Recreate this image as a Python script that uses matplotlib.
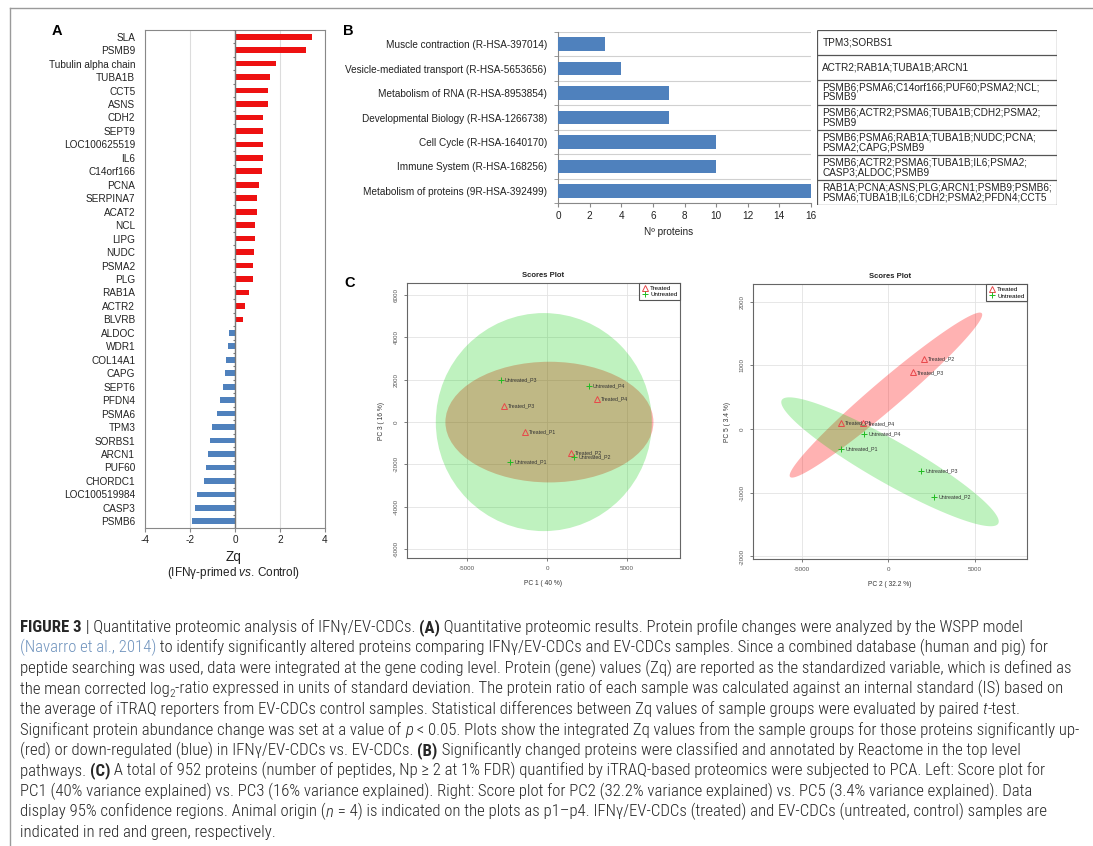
import matplotlib
matplotlib.use('Agg')
import matplotlib.pyplot as plt
from matplotlib import font_manager
from matplotlib.lines import Line2D
from matplotlib.patches import Ellipse, Polygon
import numpy as np

# ---- panel A: Zq per protein
genes = ["SLA", "PSMB9", "Tubulin alpha chain", "TUBA1B", "CCT5", "ASNS", "CDH2",
         "SEPT9", "LOC100625519", "IL6", "C14orf166", "PCNA", "SERPINA7", "ACAT2",
         "NCL", "LIPG", "NUDC", "PSMA2", "PLG", "RAB1A", "ACTR2", "BLVRB", "ALDOC",
         "WDR1", "COL14A1", "CAPG", "SEPT6", "PFDN4", "PSMA6", "TPM3", "SORBS1",
         "ARCN1", "PUF60", "CHORDC1", "LOC100519984", "CASP3", "PSMB6"]
zq = [3.41, 3.16, 1.81, 1.56, 1.48, 1.45, 1.26, 1.26, 1.23, 1.23, 1.20, 1.08, 0.98,
      0.96, 0.90, 0.87, 0.86, 0.81, 0.79, 0.62, 0.44, 0.34, -0.25, -0.33, -0.41,
      -0.46, -0.52, -0.65, -0.81, -1.01, -1.10, -1.21, -1.30, -1.39, -1.70, -1.78,
      -1.90]

# ---- panel B: Reactome pathways
pathways = ["Muscle contraction (R-HSA-397014)",
            "Vesicle-mediated transport (R-HSA-5653656)",
            "Metabolism of RNA (R-HSA-8953854)",
            "Developmental Biology (R-HSA-1266738)",
            "Cell Cycle (R-HSA-1640170)",
            "Immune System (R-HSA-168256)",
            "Metabolism of proteins (9R-HSA-392499)"]
n_proteins = [3, 4, 7, 7, 10, 10, 16]
pathway_genes = ["TPM3;SORBS1",
                 "ACTR2;RAB1A;TUBA1B;ARCN1",
                 "PSMB6;PSMA6;C14orf166;PUF60;PSMA2;NCL;\nPSMB9",
                 "PSMB6;ACTR2;PSMA6;TUBA1B;CDH2;PSMA2;\nPSMB9",
                 "PSMB6;PSMA6;RAB1A;TUBA1B;NUDC;PCNA;\nPSMA2;CAPG;PSMB9",
                 "PSMB6;ACTR2;PSMA6;TUBA1B;IL6;PSMA2;\nCASP3;ALDOC;PSMB9",
                 "RAB1A;PCNA;ASNS;PLG;ARCN1;PSMB9;PSMB6;\nPSMA6;TUBA1B;IL6;CDH2;PSMA2;PFDN4;CCT5"]

# ---- panel C: PCA scores
treated_names = ["Treated_P1", "Treated_P2", "Treated_P3", "Treated_P4"]
untreated_names = ["Untreated_P1", "Untreated_P2", "Untreated_P3", "Untreated_P4"]
treated_pc1 = [-1400, 1500, -2700, 3100]
treated_pc3 = [-450, -1450, 750, 1100]
untreated_pc1 = [-2300, 1700, -2900, 2600]
untreated_pc3 = [-1900, -1650, 2000, 1700]
treated_pc2 = [-2730, 2050, 1400, -1450]
treated_pc5 = [100, 1100, 890, 90]
untreated_pc2 = [-2710, 2640, 1900, -1380]
untreated_pc5 = [-310, -1070, -660, -80]

# 95% regions: centre, width, height (PC1 vs PC3)
treated_region_13 = [(150, 0), 13000, 5700]
untreated_region_13 = [(-200, 0), 13500, 10300]
# 95% regions: centre and half axes (PC2 vs PC5)
treated_region_25 = [(-140, 535), (5530, 1285), (530, -170)]
untreated_region_25 = [(95, -513), (6245, -970), (610, 290)]

W, H = 1093, 846
fig = plt.figure(figsize=(W / 100, H / 100), dpi=100)

names = {f.name for f in font_manager.fontManager.ttflist}
SANS = 'Liberation Sans' if 'Liberation Sans' in names else 'DejaVu Sans'
plt.rcParams['font.family'] = [SANS, 'DejaVu Sans']
plt.rcParams['axes.unicode_minus'] = False
plt.rcParams['mathtext.fontset'] = 'custom'
plt.rcParams['mathtext.rm'] = SANS
plt.rcParams['mathtext.it'] = SANS + ':italic'
plt.rcParams['mathtext.bf'] = SANS + ':bold'
narrow = [n for n in ['Roboto Condensed', 'Liberation Sans Narrow', 'DejaVu Sans Condensed'] if n in names]
CAP_FAMILY = narrow + [SANS, 'DejaVu Sans']


def px_axes(left, top, right, bottom):
    return fig.add_axes([left / W, 1 - bottom / H, (right - left) / W, (bottom - top) / H])


def fig_text(x, y, s, **kw):
    return fig.text(x / W, 1 - y / H, s, **kw)


# outer frame
fig.add_artist(Line2D([10 / W, 1], [1 - 8 / H, 1 - 8 / H], transform=fig.transFigure, color='#9a9a9a', lw=1))
fig.add_artist(Line2D([10 / W, 10 / W], [1 - 8 / H, 0], transform=fig.transFigure, color='#9a9a9a', lw=1))

for letter, x, y in [("A", 57, 31), ("B", 348, 31), ("C", 350, 283)]:
    fig_text(x, y, letter, fontsize=10.5, weight='bold', ha='center', va='center')

# ---------------- A
axA = px_axes(145, 30, 325, 528)
ya = np.arange(len(genes))
bar_colors = ['#ee1111' if v > 0 else '#4f81bd' for v in zq]
axA.barh(ya, zq, height=0.42, color=bar_colors, zorder=3)
axA.set_xlim(-4, 4)
axA.set_ylim(len(genes) - 0.5, -0.5)
axA.set_xticks([-4, -2, 0, 2, 4])
axA.set_yticks(ya, genes)
axA.tick_params(axis='y', length=0, pad=7, labelsize=7.2, labelcolor='#222')
axA.tick_params(axis='x', length=3, color='#888', labelsize=7.2, labelcolor='#222', pad=2)
axA.grid(axis='x', color='#dcdcdc', lw=0.8)
axA.set_axisbelow(True)
axA.axvline(0, color='#777', lw=1, zorder=4)
axA.hlines(np.arange(len(genes) + 1) - 0.5, -0.09, 0, color='#777', lw=0.8, zorder=4)
for sp in axA.spines.values():
    sp.set_color('#888')
fig_text(234, 557, "Zq", fontsize=9.8, ha='center', va='center', color='#222')
fig_text(234, 573, r"(IFNγ-primed $\it{vs}$. Control)", fontsize=8.5, ha='center', va='center', color='#222')

# ---------------- B
axB = px_axes(558, 32, 811, 203)
yb = np.arange(len(pathways))
axB.barh(yb, n_proteins, height=0.55, color='#4f81bd', zorder=3)
axB.set_xlim(0, 16)
axB.set_ylim(len(pathways) - 0.5, -0.5)
axB.set_xticks(range(0, 17, 2))
axB.set_yticks(yb, pathways)
axB.set_yticks(np.arange(len(pathways) + 1) - 0.5, minor=True)
axB.grid(axis='y', which='minor', color='#d0d0d0', lw=0.8)
axB.tick_params(axis='y', which='major', length=0, pad=8, labelsize=7.2, labelcolor='#222')
axB.tick_params(axis='y', which='minor', length=3, color='#888')
axB.tick_params(axis='x', length=3, color='#888', labelsize=7.2, labelcolor='#222', pad=3)
for side in ['top', 'right']:
    axB.spines[side].set_visible(False)
for side in ['left', 'bottom']:
    axB.spines[side].set_color('#888')
fig_text(669, 232, "Nº proteins", fontsize=7.2, ha='center', va='center', color='#222')

axT = px_axes(817, 30, 1057, 205)
axT.set_xlim(0, 1)
axT.set_ylim(len(pathway_genes), 0)
axT.axis('off')
axT.hlines(np.arange(len(pathway_genes) + 1), 0, 1, color='#555', lw=0.9)
axT.vlines([0, 1], 0, len(pathway_genes), color='#555', lw=0.9)
for i, s in enumerate(pathway_genes):
    axT.text(0.022, i + 0.5, s, fontsize=7.2, va='center', ha='left', linespacing=1.0, color='#222')

# ---------------- C


def style_pca(ax, xlab, ylab, xticks, yticks):
    ax.set_title("Scores Plot", fontsize=5.5, weight='bold', pad=4, color='#222')
    ax.set_xticks(xticks)
    ax.set_yticks(yticks)
    ax.grid(color='#e3e3e3', lw=0.6)
    ax.set_axisbelow(True)
    ax.tick_params(labelsize=4.5, labelcolor='#555', length=2.5, color='#666', width=0.6)
    for lab in ax.get_yticklabels():
        lab.set_rotation(90)
        lab.set_va('center')
    for sp in ax.spines.values():
        sp.set_color('#666')
        sp.set_linewidth(0.8)
    ax.set_xlabel(xlab, fontsize=4.8, color='#333', labelpad=6)
    ax.set_ylabel(ylab, fontsize=4.8, color='#333', labelpad=6)


def plot_groups(ax, tx, ty, ux, uy):
    ax.plot(tx, ty, ls='none', marker='^', mfc='none', mec='#e8474a', ms=4, mew=0.7, label='Treated', zorder=4)
    ax.plot(ux, uy, ls='none', marker='+', color='#22bb22', ms=4, mew=0.7, label='Untreated', zorder=4)
    for names_, xs, ys in [(treated_names, tx, ty), (untreated_names, ux, uy)]:
        for n, x, y in zip(names_, xs, ys):
            ax.annotate(n, (x, y), xytext=(3, 0), textcoords='offset points', fontsize=3.8,
                        va='center', ha='left', color='#333', zorder=5)
    leg = ax.legend(loc='upper right', fontsize=4.5, borderaxespad=0, fancybox=False,
                    framealpha=1, edgecolor='#555', handletextpad=0.4, borderpad=0.4,
                    handlelength=1.0, labelspacing=0.2)
    leg.get_frame().set_linewidth(0.8)


axL = px_axes(407, 283, 680, 558)
axL.set_xlim(-8750, 8310)
axL.set_ylim(-6420, 6570)
axL.add_patch(Ellipse(*treated_region_13, color='#ff0000', alpha=0.3, lw=0, zorder=2))
axL.add_patch(Ellipse(*untreated_region_13, color='#00cc00', alpha=0.25, lw=0, zorder=2))
plot_groups(axL, treated_pc1, treated_pc3, untreated_pc1, untreated_pc3)
style_pca(axL, "PC 1 ( 40 %)", "PC 3 ( 16 %)", [-5000, 0, 5000], range(-6000, 6001, 2000))

axR = px_axes(753, 284, 1027, 559)
axR.set_xlim(-7810, 8000)
axR.set_ylim(-2040, 2280)
t = np.linspace(0, 2 * np.pi, 240)
for region, col, a in [(treated_region_25, '#ff0000', 0.3), (untreated_region_25, '#00cc00', 0.25)]:
    c, u, v = (np.array(p) for p in region)
    pts = c + np.outer(np.cos(t), u) + np.outer(np.sin(t), v)
    axR.add_patch(Polygon(pts, closed=True, color=col, alpha=a, lw=0, zorder=2))
plot_groups(axR, treated_pc2, treated_pc5, untreated_pc2, untreated_pc5)
style_pca(axR, "PC 2 ( 32.2 %)", "PC 5 ( 3.4 %)", [-5000, 0, 5000], range(-2000, 2001, 1000))

# ---------------- caption
caption_lines = [
    [("FIGURE 3", 'b'), (" | Quantitative proteomic analysis of IFNγ/EV-CDCs. ", 'r'), ("(A)", 'b'),
     (" Quantitative proteomic results. Protein profile changes were analyzed by the WSPP model", 'r')],
    [("(Navarro et al., 2014)", 'link'),
     (" to identify significantly altered proteins comparing IFNγ/EV-CDCs and EV-CDCs samples. Since a combined database (human and pig) for", 'r')],
    [("peptide searching was used, data were integrated at the gene coding level. Protein (gene) values (Zq) are reported as the standardized variable, which is defined as", 'r')],
    [("the mean corrected log", 'r'), ("2", 'sub'),
     ("-ratio expressed in units of standard deviation. The protein ratio of each sample was calculated against an internal standard (IS) based on", 'r')],
    [("the average of iTRAQ reporters from EV-CDCs control samples. Statistical differences between Zq values of sample groups were evaluated by paired ", 'r'),
     ("t", 'i'), ("-test.", 'r')],
    [("Significant protein abundance change was set at a value of ", 'r'), ("p", 'i'),
     (" < 0.05. Plots show the integrated Zq values from the sample groups for those proteins significantly up-", 'r')],
    [("(red) or down-regulated (blue) in IFNγ/EV-CDCs vs. EV-CDCs. ", 'r'), ("(B)", 'b'),
     (" Significantly changed proteins were classified and annotated by Reactome in the top level", 'r')],
    [("pathways. ", 'r'), ("(C)", 'b'),
     (" A total of 952 proteins (number of peptides, Np ≥ 2 at 1% FDR) quantified by iTRAQ-based proteomics were subjected to PCA. Left: Score plot for", 'r')],
    [("PC1 (40% variance explained) vs. PC3 (16% variance explained). Right: Score plot for PC2 (32.2% variance explained) vs. PC5 (3.4% variance explained). Data", 'r')],
    [("display 95% confidence regions. Animal origin (", 'r'), ("n", 'i'),
     (" = 4) is indicated on the plots as p1–p4. IFNγ/EV-CDCs (treated) and EV-CDCs (untreated, control) samples are", 'r')],
    [("indicated in red and green, respectively.", 'r')],
]

renderer = fig.canvas.get_renderer()


def run_style(kind, size):
    kw = dict(family=CAP_FAMILY, fontsize=size, color='#262626', weight='light')
    if kind == 'b':
        kw['weight'] = 'bold'
    elif kind == 'i':
        kw['style'] = 'italic'
    elif kind == 'link':
        kw['color'] = '#6f93bd'
    elif kind == 'sub':
        kw['fontsize'] = size * 0.68
    return kw


def advance(s, kw):
    t1 = fig.text(0, 0, s + '|', **kw)
    t2 = fig.text(0, 0, '|', **kw)
    w = t1.get_window_extent(renderer).width - t2.get_window_extent(renderer).width
    t1.remove()
    t2.remove()
    return w


# size the caption so its longest line runs from x=20 to x=1084
widest = max(sum(advance(s, run_style(k, 10.0)) for s, k in runs) for runs in caption_lines)
CAP = 10.0 * (1084 - 20) / widest

for i, runs in enumerate(caption_lines):
    x = 20
    y = 632 + i * 20.5
    for s, kind in runs:
        kw = run_style(kind, CAP)
        dy = 3 if kind == 'sub' else 0
        fig_text(x, y + dy, s, ha='left', va='baseline', **kw)
        x += advance(s, kw)

fig.savefig('out.png', dpi=100)
